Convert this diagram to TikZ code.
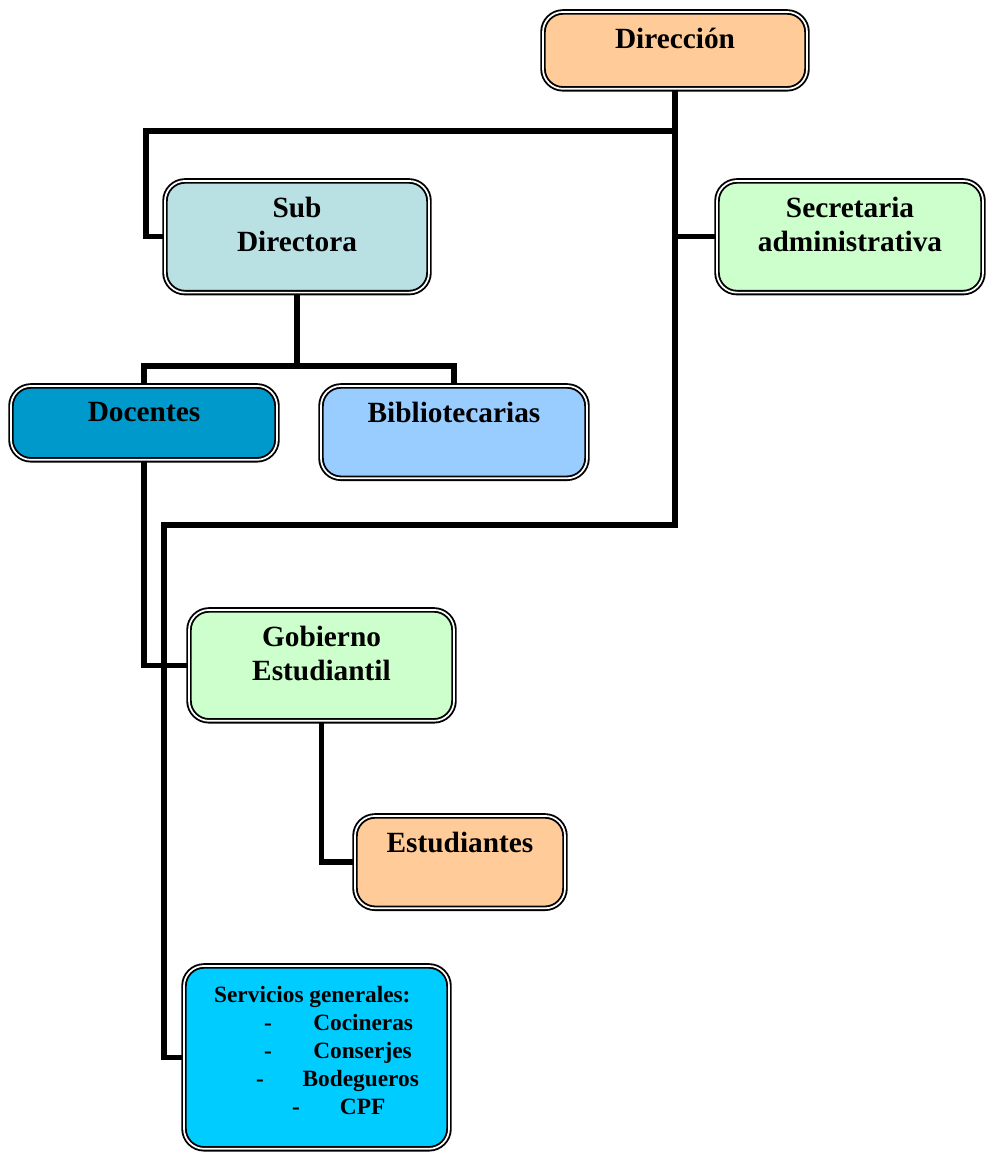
\documentclass[tikz,border=0pt]{standalone}
\usepackage{fontspec}
\setmainfont{Liberation Serif}
\usetikzlibrary{positioning,calc}

\definecolor{peach}{HTML}{FFCC99}
\definecolor{greyblue}{HTML}{B9E0E3}
\definecolor{mint}{HTML}{CCFFCC}
\definecolor{deepblue}{HTML}{0099CC}
\definecolor{skyblue}{HTML}{99CCFF}
\definecolor{cyanblue}{HTML}{00CCFF}

\tikzset{
  orgbox/.style={draw=black, line width=1.4pt, double=white, double distance=1.3pt,
    rounded corners=15pt, anchor=north, inner xsep=4pt, inner ysep=12pt,
    align=center, font=\fontsize{22}{25.5}\selectfont\bfseries},
  conn/.style={line width=4pt}
}

\begin{document}
\begin{tikzpicture}[x=0.75pt,y=-0.75pt]
        \useasboundingbox (0,0) rectangle (993,1152);

        % boxes
        \node[orgbox, fill=peach, minimum width=198pt, text depth=18.4pt] (dir) at (675,11) {Dirección};
        \node[orgbox, fill=greyblue, minimum width=198pt, text depth=19pt] (sub) at (297,180) {Sub\\Directora};
        \node[orgbox, fill=mint, minimum width=199.5pt, text depth=19pt] (sec) at (850,180) {Secretaria\\administrativa};
        \node[orgbox, fill=deepblue, minimum width=199.5pt, text depth=17pt] (doc) at (144,385) {Docentes};
        \node[orgbox, fill=skyblue, minimum width=199.5pt, text depth=30pt] (bib) at (454,385) {Bibliotecarias};
        \node[orgbox, fill=mint, minimum width=198.75pt, text depth=18.4pt] (gob) at (321.5,609) {Gobierno\\Estudiantil};
        \node[orgbox, fill=peach, minimum width=157.5pt, text depth=30pt] (est) at (460,815) {Estudiantes};
        \node[orgbox, fill=cyanblue, minimum width=198.75pt, inner ysep=15pt, text depth=11pt,
              align=left, font=\fontsize{17.5}{21}\selectfont\bfseries] (serv) at (316.5,965)
              {Servicios generales:\\
               \hspace*{37.5pt}-\hspace{31pt}Cocineras\\
               \hspace*{37.5pt}-\hspace{31pt}Conserjes\\
               \hspace*{31.5pt}-\hspace{29pt}Bodegueros\\
               \hspace*{58.5pt}-\hspace{30pt}CPF};

        % connectors
        \coordinate (leftbend) at (146,131);
        \coordinate (lowbend) at (164,525);
        \coordinate (fork) at (297,366);

        \draw[conn] (dir.south) |- (leftbend) |- (sub.west);
        \draw[conn] (dir.south) |- (sec.west);
        \draw[conn] (dir.south) |- (lowbend) |- (serv.west);
        \draw[conn] (sub.south) -- (fork);
        \draw[conn] (doc.north) |- (fork -| bib.north) -- (bib.north);
        \draw[conn] (doc.south) |- (gob.west);
        \draw[conn] (gob.south) |- (est.west);

      \end{tikzpicture}
\end{document}
